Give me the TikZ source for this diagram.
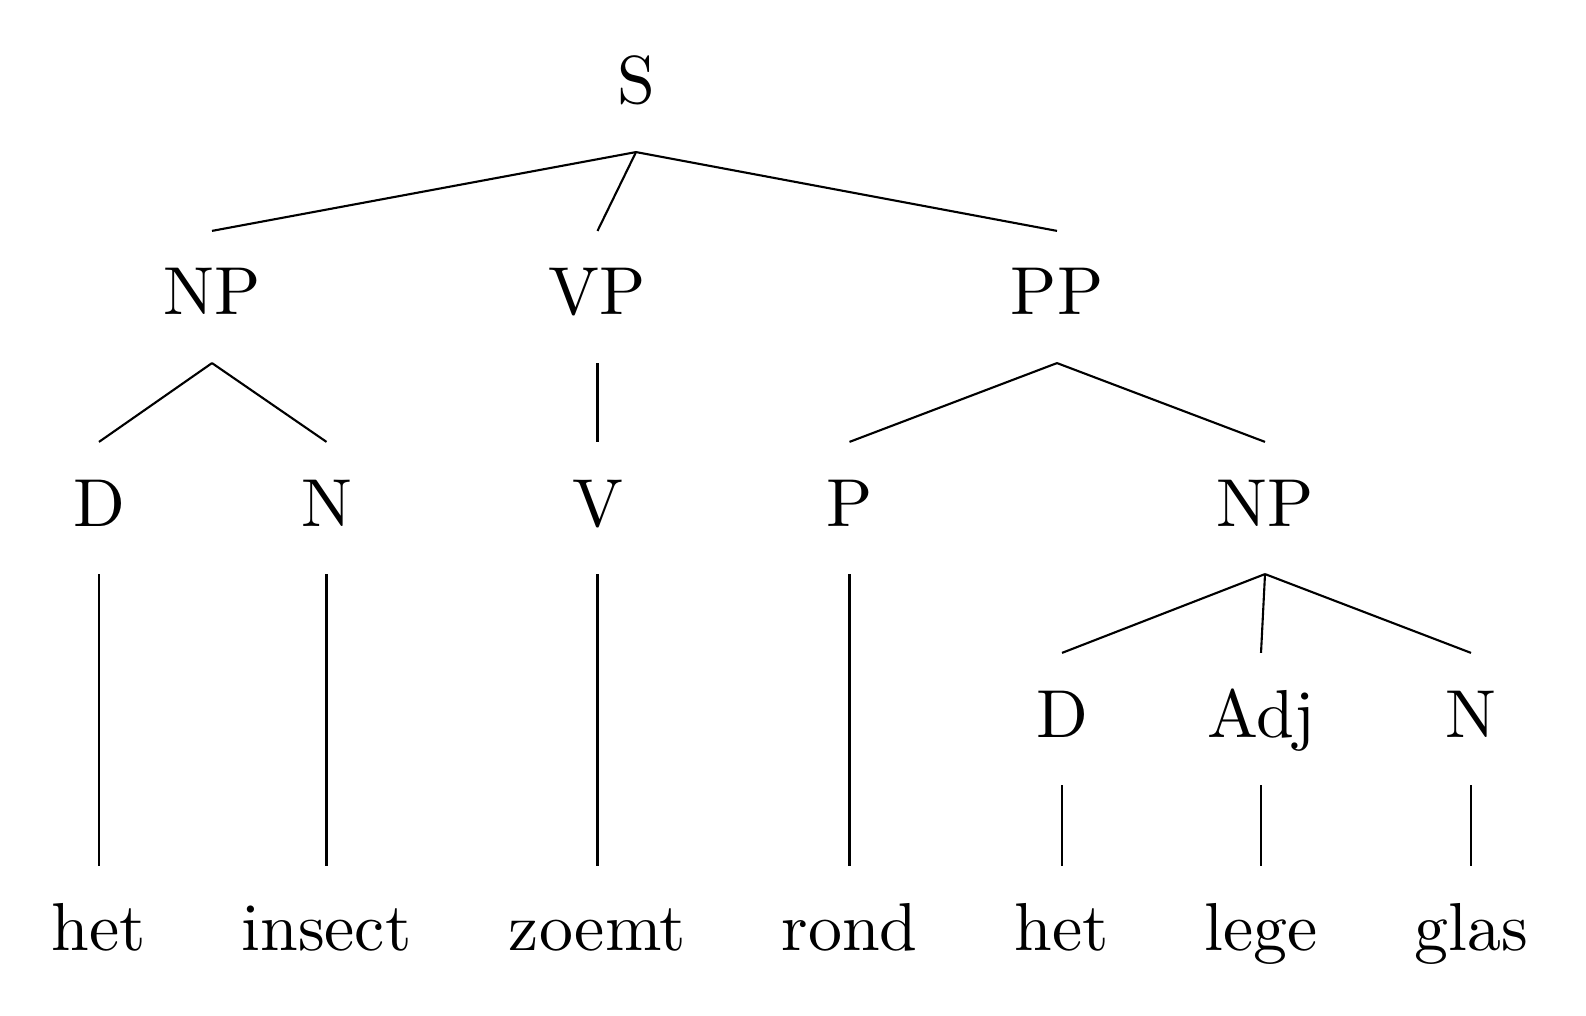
\documentclass[tikz,border=0pt]{standalone}
\usepackage{amsmath}
\usepackage{tikz}
\newcommand{\lbl}[1]{\scalebox{1.93}{#1}}

\begin{document}
\begin{tikzpicture}[x = 0.01cm, y = -0.01cm, line width = 0.6pt, cat/.style={anchor = base, font = \fontsize{10}{12}\selectfont, inner xsep = 0pt, inner ysep = 0.38cm, text height = 0.45cm, text depth = 0.09cm}]
  \useasboundingbox (0, 0) rectangle (1586, 1016);
  % nodes
  \node [cat] (s) at (636, 104) {\lbl{S}};

  \node [cat] (np) at (212, 315) {\lbl{NP}};
  \node [cat] (vp) at (597.5, 315) {\lbl{VP}};
  \node [cat] (pp) at (1057, 315) {\lbl{PP}};

  \node [cat] (d) at (99, 526) {\lbl{D}};
  \node [cat] (n) at (326.5, 526) {\lbl{N}};
  \node [cat] (v) at (597.5, 526) {\lbl{V}};
  \node [cat] (p) at (849.5, 526) {\lbl{P}};
  \node [cat] (np2) at (1265, 526) {\lbl{NP}};

  \node [cat] (d2) at (1062, 737) {\lbl{D}};
  \node [cat] (adj) at (1261, 737) {\lbl{Adj}};
  \node [cat] (n2) at (1471, 737) {\lbl{N}};

  \node [cat] (het) at (99, 950) {\lbl{het}};
  \node [cat] (insect) at (326.5, 950) {\lbl{insect}};
  \node [cat] (zoemt) at (597.5, 950) {\lbl{zoemt}};
  \node [cat] (rond) at (849.5, 950) {\lbl{rond}};
  \node [cat] (het2) at (1062, 950) {\lbl{het}};
  \node [cat] (lege) at (1261, 950) {\lbl{lege}};
  \node [cat] (glas) at (1471, 950) {\lbl{glas}};

  % edges
  \draw (s.south) -- (np.north);
  \draw (s.south) -- (vp.north);
  \draw (s.south) -- (pp.north);

  \draw (np.south) -- (d.north);
  \draw (np.south) -- (n.north);
  \draw (vp.south) -- (v.north);
  \draw (pp.south) -- (p.north);
  \draw (pp.south) -- (np2.north);

  \draw (np2.south) -- (d2.north);
  \draw (np2.south) -- (adj.north);
  \draw (np2.south) -- (n2.north);

  \draw (d.south) -- (het.north);
  \draw (n.south) -- (insect.north);
  \draw (v.south) -- (zoemt.north);
  \draw (p.south) -- (rond.north);
  \draw (d2.south) -- (het2.north);
  \draw (adj.south) -- (lege.north);
  \draw (n2.south) -- (glas.north);
\end{tikzpicture}
\end{document}
